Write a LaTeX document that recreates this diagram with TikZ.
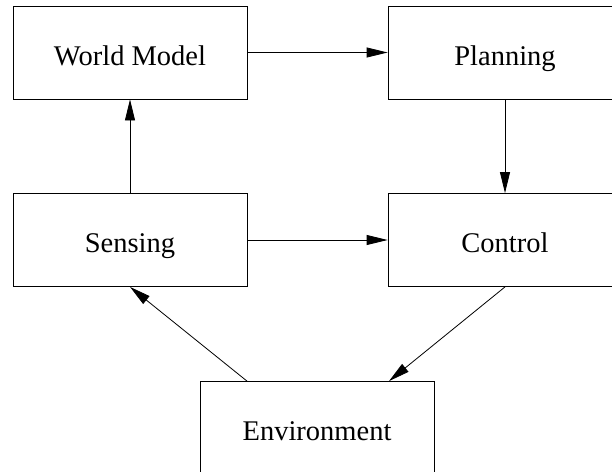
\documentclass[tikz,border=0pt]{standalone}
\usepackage{fontspec}
\setmainfont{Liberation Serif}
\usetikzlibrary{arrows.meta}

\begin{document}
\begin{tikzpicture}[x=1pt,y=-1pt]
\tikzstyle{blk}=[rectangle,draw,line width=0.8pt,minimum width=234pt,minimum height=93pt,inner sep=0pt,text height=25pt,text depth=0pt,font=\fontsize{28.5}{32}\selectfont]
\tikzstyle{flow}=[line width=0.8pt,-{Triangle[length=21pt,width=10pt]}]
\useasboundingbox (0,0) rectangle (612,471);
\node [blk] (world) at (130,52.5) {World Model};
\node [blk] (plan) at (505,52.5) {Planning};
\node [blk] (sense) at (130,240) {Sensing};
\node [blk] (ctrl) at (505,240) {Control};
\node [blk] (env) at (317,428) {Environment};
\coordinate (envL) at ([xshift=-70pt]env.north);
\coordinate (envR) at ([xshift=72pt]env.north);
\draw [flow] (world.east) -- (plan.west);
\draw [flow] (sense.north) -- (world.south);
\draw [flow] (plan.south) -- (ctrl.north);
\draw [flow] (sense.east) -- (ctrl.west);
\draw [flow] (ctrl.south) -- (envR);
\draw [flow] (envL) -- (sense.south);
\end{tikzpicture}
\end{document}
